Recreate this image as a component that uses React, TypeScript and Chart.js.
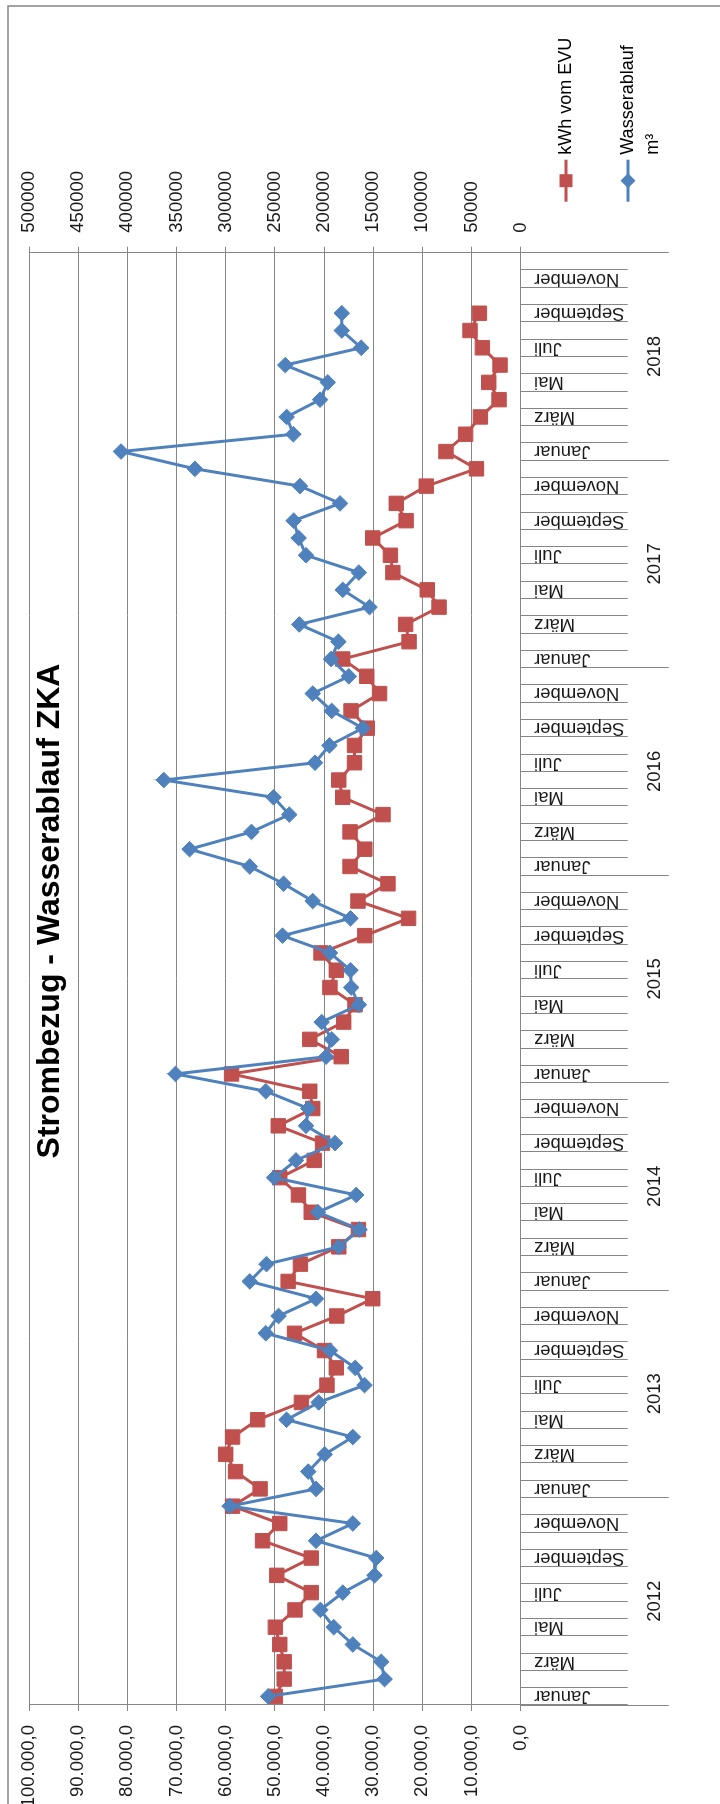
import React, { useEffect, useRef } from 'react';
import { Chart, registerables } from 'chart.js';

Chart.register(...registerables);

// ---- data ----
const MONTHS = ['Januar', 'Februar', 'März', 'April', 'Mai', 'Juni', 'Juli', 'August', 'September', 'Oktober', 'November', 'Dezember'];
const YEARS = ['2012', '2013', '2014', '2015', '2016', '2017', '2018'];

const KWH_2012 = [49900, 48100, 48100, 49000, 49900, 45900, 42600, 49600, 42600, 52500, 49000, 58600];
const KWH_2013 = [53000, 58000, 60000, 58600, 53500, 44600, 39400, 37500, 39900, 46000, 37400, 30100];
const KWH_2014 = [47300, 44800, 37000, 33000, 42600, 45200, 49000, 42000, 40300, 49300, 42300, 42900];
const KWH_2015 = [58800, 36500, 42900, 36000, 33700, 38800, 37500, 40600, 31700, 22800, 33100, 27000];
const KWH_2016 = [34700, 31700, 34700, 28000, 36200, 37000, 33800, 33800, 31200, 34500, 28700, 31300];
const KWH_2017 = [36200, 22700, 23400, 16600, 19000, 26000, 26500, 30100, 23300, 25300, 19200, 9000];
const KWH_2018 = [15200, 11200, 8200, 4400, 6500, 4200, 7800, 10300, 8400, null, null, null];

const WATER_2012 = [256800, 138400, 141800, 170700, 190100, 203700, 180900, 148600, 146900, 208100, 170700, 295900];
const WATER_2013 = [208100, 216000, 199300, 170700, 238100, 205400, 158800, 168300, 193900, 259200, 246200, 208100];
const WATER_2014 = [275500, 258500, 185000, 163900, 206100, 167300, 250700, 228500, 188800, 218300, 216000, 259200];
const WATER_2015 = [351000, 197900, 192200, 202400, 164600, 172400, 173100, 193900, 242200, 173100, 211500, 241100];
const WATER_2016 = [275500, 336700, 273800, 235300, 251300, 362900, 209200, 194500, 160500, 192200, 211500, 174800];
const WATER_2017 = [192800, 185400, 225100, 153700, 180900, 164600, 218300, 225800, 230900, 183700, 224400, 331300];
const WATER_2018 = [406400, 231200, 238000, 204000, 196200, 239400, 162200, 181900, 181900, null, null, null];

const TITLE = 'Strombezug - Wasserablauf ZKA';
const SERIES_KWH = 'kWh vom EVU';
const SERIES_WATER = 'Wasserablauf m³';

const LABELS = YEARS.flatMap(() => MONTHS);
const KWH = [...KWH_2012, ...KWH_2013, ...KWH_2014, ...KWH_2015, ...KWH_2016, ...KWH_2017, ...KWH_2018];
const WATER = [...WATER_2012, ...WATER_2013, ...WATER_2014, ...WATER_2015, ...WATER_2016, ...WATER_2017, ...WATER_2018];

// ---- styling ----
const W = 1804;
const H = 720;
const FONT = '"Liberation Sans", Arial, sans-serif';
const GRID = '#868686';
const TEXT = '#1a1a1a';
const RED = '#C0504D';
const BLUE = '#4F81BD';

function fmtKwh(v: number): string {
  const s = Math.round(v).toString().replace(/\B(?=(\d{3})+(?!\d))/g, '.');
  return s + ',0';
}

const framePlugin = {
  id: 'frame',
  beforeDraw(chart: any) {
    const ctx = chart.ctx;
    ctx.save();
    ctx.fillStyle = '#ffffff';
    ctx.fillRect(0, 0, chart.width, chart.height);
    ctx.strokeStyle = '#878787';
    ctx.lineWidth = 1.5;
    ctx.beginPath();
    ctx.moveTo(0, 8);
    ctx.lineTo(chart.width - 6, 8);
    ctx.lineTo(chart.width - 6, chart.height);
    ctx.stroke();
    ctx.restore();
  },
};

// the year level of the category axis shares the band of the month level
const yearBandPlugin = {
  id: 'yearBand',
  afterLayout(chart: any) {
    const mx = chart.scales.x;
    const yx = chart.scales.x2;
    if (!mx || !yx) return;
    yx.top = mx.top;
    yx.bottom = mx.bottom;
    yx.height = mx.height;
  },
};

const titlePlugin = {
  id: 'overlayTitle',
  afterDraw(chart: any) {
    const ctx = chart.ctx;
    ctx.save();
    ctx.font = `bold 32px ${FONT}`;
    ctx.fillStyle = '#000';
    ctx.textAlign = 'center';
    ctx.textBaseline = 'alphabetic';
    ctx.fillText(TITLE, 893, 58.5);
    ctx.restore();
  },
};

function wrapText(ctx: CanvasRenderingContext2D, text: string, maxW: number): string[] {
  const words = text.split(' ');
  const lines: string[] = [];
  let cur = '';
  for (const w of words) {
    const t = cur ? cur + ' ' + w : w;
    if (cur && ctx.measureText(t).width > maxW) {
      lines.push(cur);
      cur = w;
    } else cur = t;
  }
  if (cur) lines.push(cur);
  return lines;
}

const legendPlugin = {
  id: 'sideLegend',
  afterDraw(chart: any) {
    const ctx = chart.ctx;
    const area = chart.chartArea;
    const x0 = area.right + 51;
    const x1 = x0 + 42;
    const tx = x1 + 5;
    const rows = [566, 628];
    ctx.save();
    ctx.font = `18px ${FONT}`;
    ctx.textBaseline = 'middle';
    ctx.textAlign = 'left';
    chart.data.datasets.forEach((ds: any, i: number) => {
      const y = rows[i];
      ctx.strokeStyle = ds.borderColor;
      ctx.lineWidth = 3;
      ctx.beginPath();
      ctx.moveTo(x0, y);
      ctx.lineTo(x1, y);
      ctx.stroke();
      const cx = (x0 + x1) / 2;
      ctx.fillStyle = ds.borderColor;
      ctx.beginPath();
      if (ds.pointStyle === 'rect') {
        ctx.rect(cx - 6.5, y - 6.5, 13, 13);
      } else {
        ctx.moveTo(cx - 7.5, y);
        ctx.lineTo(cx, y - 7.5);
        ctx.lineTo(cx + 7.5, y);
        ctx.lineTo(cx, y + 7.5);
        ctx.closePath();
      }
      ctx.fill();
      ctx.fillStyle = '#000';
      const lines = wrapText(ctx, ds.label, 125);
      lines.forEach((l, k) => ctx.fillText(l, tx, y + k * 25));
    });
    ctx.restore();
  },
};

export default function App() {
  const ref = useRef<HTMLCanvasElement | null>(null);

  useEffect(() => {
    if (!ref.current) return;
    const tickFont = { family: FONT, size: 18.5 };
    const chart = new Chart(ref.current, {
      type: 'line',
      data: {
        labels: LABELS,
        datasets: [
          {
            label: SERIES_KWH,
            data: KWH,
            yAxisID: 'y',
            borderColor: RED,
            backgroundColor: RED,
            borderWidth: 3,
            pointStyle: 'rect',
            pointRadius: 10.2,
            pointBorderWidth: 1,
            pointBackgroundColor: RED,
            pointBorderColor: RED,
            tension: 0,
            spanGaps: false,
            order: 1,
          },
          {
            label: SERIES_WATER,
            data: WATER,
            yAxisID: 'y1',
            borderColor: BLUE,
            backgroundColor: BLUE,
            borderWidth: 3,
            pointStyle: 'rectRot',
            pointRadius: 7.8,
            pointBorderWidth: 1,
            pointBackgroundColor: BLUE,
            pointBorderColor: BLUE,
            tension: 0,
            spanGaps: false,
            order: 0,
          },
        ],
      },
      options: {
        responsive: false,
        animation: false,
        devicePixelRatio: 1,
        events: [],
        layout: { padding: { top: 29, left: 0, right: 0, bottom: 0 } },
        plugins: {
          legend: { display: false },
          title: { display: false },
          tooltip: { enabled: false },
        },
        scales: {
          x: {
            type: 'category',
            position: 'bottom',
            offset: true,
            weight: 0,
            grid: { offset: true, drawOnChartArea: false, drawTicks: true, tickLength: 107, color: GRID, lineWidth: 1 },
            border: { display: true, color: GRID, width: 1 },
            ticks: {
              autoSkip: false,
              minRotation: 90,
              maxRotation: 90,
              padding: -93.7,
              color: TEXT,
              font: tickFont,
              callback: (_v: any, i: number) => (i % 2 === 0 ? LABELS[i] : ''),
            },
            afterFit: (s: any) => {
              s.height = 199.3;
            },
          },
          x2: {
            type: 'category',
            position: 'bottom',
            labels: YEARS,
            offset: true,
            weight: 1,
            grid: { offset: true, drawOnChartArea: false, drawTicks: true, tickLength: 148, color: GRID, lineWidth: 1 },
            border: { display: false },
            ticks: {
              autoSkip: false,
              minRotation: 0,
              maxRotation: 0,
              padding: -25,
              color: TEXT,
              font: tickFont,
            },
            afterFit: (s: any) => {
              s.height = 0;
            },
          },
          y: {
            type: 'linear',
            position: 'left',
            min: 0,
            max: 100000,
            grid: { color: GRID, lineWidth: 1, drawTicks: true, tickLength: 6 },
            border: { display: true, color: GRID, width: 1 },
            ticks: {
              stepSize: 10000,
              padding: 14,
              color: TEXT,
              font: tickFont,
              callback: (v: any) => fmtKwh(Number(v)),
            },
            afterFit: (s: any) => {
              s.width = 99;
            },
          },
          y1: {
            type: 'linear',
            position: 'right',
            min: 0,
            max: 500000,
            grid: { drawOnChartArea: false, color: GRID, lineWidth: 1, drawTicks: true, tickLength: 6 },
            border: { display: true, color: GRID, width: 1 },
            ticks: {
              stepSize: 50000,
              padding: 14,
              color: TEXT,
              font: tickFont,
              callback: (v: any) => String(v),
            },
            afterFit: (s: any) => {
              s.width = 252.7;
            },
          },
        },
      },
      plugins: [framePlugin, yearBandPlugin, titlePlugin, legendPlugin],
    } as any);
    return () => chart.destroy();
  }, []);

  return (
    <div style={{ position: 'absolute', left: 0, top: 0, width: 720, height: 1804, overflow: 'hidden', background: '#fff' }}>
      <div
        style={{
          position: 'absolute',
          left: 0,
          top: 0,
          width: W,
          height: H,
          transformOrigin: '0 0',
          transform: `translateY(${W}px) rotate(-90deg)`,
        }}
      >
        <canvas ref={ref} width={W} height={H} style={{ display: 'block', width: W, height: H }} />
      </div>
    </div>
  );
}
